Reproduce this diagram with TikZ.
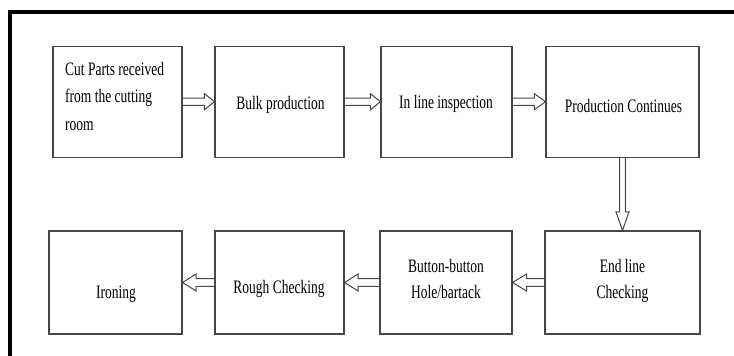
\documentclass[tikz,border=0pt]{standalone}
\usepackage{fontspec}
\setmainfont{Liberation Serif}[FakeStretch=0.71]
\usetikzlibrary{calc}
\definecolor{edgegray}{RGB}{70,70,70}

\tikzset{
  stage/.style={draw=edgegray, line width=1.1pt, rectangle, inner sep=0pt},
  label/.style={inner sep=0pt, font=\fontsize{19}{26}\selectfont, text=black},
  % horizontal block arrow: #1 signed head length, #2 head half-height, #3 shaft half-width
  flowarrow/.style n args={3}{draw=edgegray, line width=1pt, line join=miter,
    to path={($(\tikztostart)+(0,#3)$) -- ($(\tikztotarget)+(#1,#3)$)
      -- ($(\tikztotarget)+(#1,#2)$) -- (\tikztotarget)
      -- ($(\tikztotarget)+(#1,-#2)$) -- ($(\tikztotarget)+(#1,-#3)$)
      -- ($(\tikztostart)+(0,-#3)$)}},
  % downward block arrow
  droparrow/.style n args={3}{draw=edgegray, line width=1pt, line join=miter,
    to path={($(\tikztostart)+(#3,0)$) -- ($(\tikztotarget)+(#3,#1)$)
      -- ($(\tikztotarget)+(#2,#1)$) -- (\tikztotarget)
      -- ($(\tikztotarget)+(-#2,#1)$) -- ($(\tikztotarget)+(-#3,#1)$)
      -- ($(\tikztostart)+(-#3,0)$)}},
}

\begin{document}
\begin{tikzpicture}[x=1pt, y=-1pt]
\useasboundingbox (0,0) rectangle (734,356);

% frame on the top and left
\draw[black, line width=4pt, line join=miter] (10.3,356) -- (10.3,12) -- (734,12);

% upper row of stages
\node[stage, minimum width=129, minimum height=111] (b1) at (117.5,101.7) {};
\node[stage, minimum width=129, minimum height=111] (b2) at (279.5,101.7) {};
\node[stage, minimum width=131, minimum height=111] (b3) at (446.5,101.7) {};
\node[stage, minimum width=153, minimum height=111] (b4) at (622.5,101.7) {};

% lower row of stages
\node[stage, minimum width=155, minimum height=103] (b5) at (622.5,282.5) {};
\node[stage, minimum width=132, minimum height=103] (b6) at (446,282.5) {};
\node[stage, minimum width=129, minimum height=103] (b7) at (279.5,282.5) {};
\node[stage, minimum width=133, minimum height=103] (b8) at (115.5,282.5) {};

% stage texts
\node[label, anchor=north west, align=left] (t1) at (65,62)
  {Cut Parts received\\[1.5pt]from the cutting\\[1.5pt]room};
\node[label, anchor=base] (t2) at (280.5,109) {Bulk production};
\node[label, anchor=base] (t3) at (446,108) {In line inspection};
\node[label, anchor=base] (t4) at (623.5,112.5) {Production Continues};
\node[label, anchor=north, align=center] (t5) at (622.5,259) {End line\\Checking};
\node[label, anchor=north, align=center] (t6) at (446,259) {Button-button\\Hole/bartack};
\node[label, anchor=base] (t7) at (279,293) {Rough Checking};
\node[label, anchor=base] (t8) at (116,298.5) {Ironing};

% flow arrows
\draw[flowarrow={-10}{8}{3.7}] (b1.east) to (b2.west);
\draw[flowarrow={-10}{8}{3.7}] (b2.east) to (b3.west);
\draw[flowarrow={-11}{8}{3.7}] (b3.east) to (b4.west);
\draw[droparrow={-18.5}{6.5}{2.8}] (b4.south) to (b5.north);
\draw[flowarrow={14}{8.5}{3.8}] (b5.west) to (b6.east);
\draw[flowarrow={13.5}{8.5}{3.8}] (b6.west) to (b7.east);
\draw[flowarrow={13.5}{8.5}{3.8}] (b7.west) to (b8.east);
\end{tikzpicture}
\end{document}
